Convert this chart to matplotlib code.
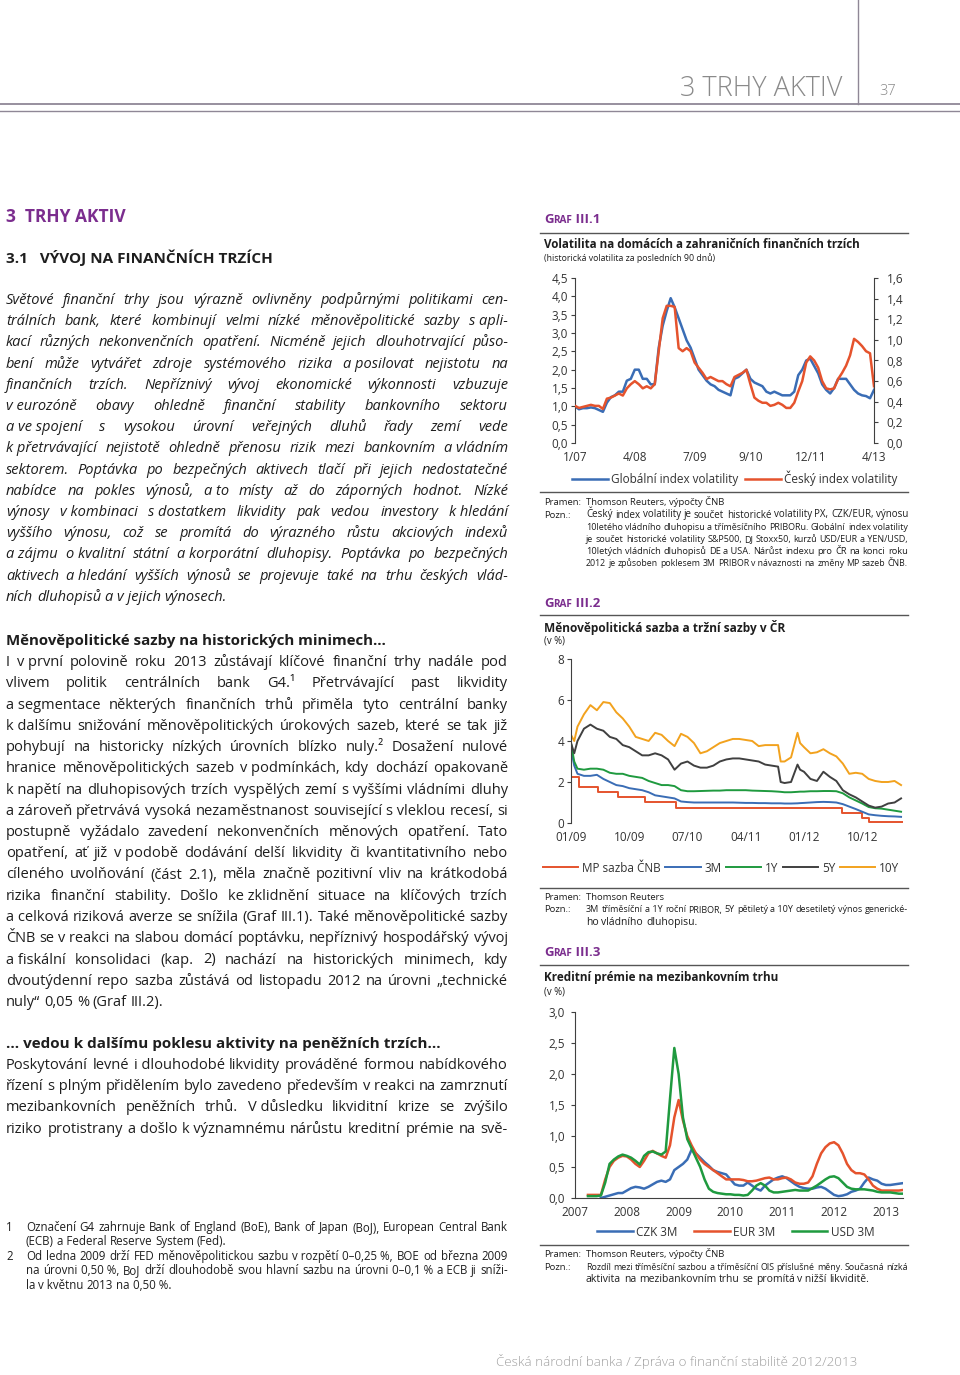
import numpy as np
import matplotlib
matplotlib.use("Agg")
import matplotlib.pyplot as plt
from matplotlib.lines import Line2D

FONT = ["Open Sans", "DejaVu Sans"]
NARROW = ["Liberation Sans Narrow", "Open Sans", "DejaVu Sans"]
plt.rcParams["font.family"] = FONT

PURPLE = "#7b2d8e"
GREY = "#8c8c8c"
INK = "#1e1e1e"
BLUE = "#3a6db5"
RED = "#e5532d"
GREEN = "#1f9a3f"
DARK = "#404040"
ORANGE = "#f2a21e"

# ---------------- data ----------------
# Graf III.1 - months since 1/2007
vol_month = list(range(76))
vol_ticks = [0, 15, 30, 44, 59, 75]
vol_labels = ["1/07", "4/08", "7/09", "9/10", "12/11", "4/13"]
vol_global = [1.0, 0.92, 0.95, 0.95, 0.97, 0.95, 0.9, 0.85, 1.1, 1.25,
              1.3, 1.4, 1.4, 1.7, 1.75, 2.0, 2.0, 1.75, 1.75, 1.6,
              1.6, 2.6, 3.2, 3.6, 3.95, 3.7, 3.4, 3.1, 2.8, 2.6,
              2.3, 2.0, 1.85, 1.7, 1.6, 1.55, 1.45, 1.4, 1.35, 1.3,
              1.75, 1.8, 1.9, 2.0, 1.75, 1.65, 1.6, 1.55, 1.4, 1.35,
              1.4, 1.35, 1.3, 1.3, 1.3, 1.4, 1.85, 2.0, 2.25, 2.3,
              2.1, 1.9, 1.6, 1.45, 1.35, 1.5, 1.75, 1.75, 1.75, 1.6,
              1.45, 1.35, 1.3, 1.28, 1.22, 1.45]
vol_czech = [0.36, 0.34, 0.35, 0.36, 0.37, 0.36, 0.36, 0.33, 0.43, 0.44,
             0.46, 0.48, 0.46, 0.53, 0.57, 0.60, 0.57, 0.53, 0.55, 0.53,
             0.57, 0.89, 1.21, 1.33, 1.33, 1.32, 0.92, 0.89, 0.92, 0.89,
             0.78, 0.73, 0.68, 0.62, 0.64, 0.62, 0.60, 0.60, 0.57, 0.55,
             0.64, 0.66, 0.68, 0.71, 0.57, 0.44, 0.41, 0.39, 0.39, 0.36,
             0.37, 0.39, 0.37, 0.34, 0.34, 0.39, 0.50, 0.60, 0.78, 0.84,
             0.80, 0.73, 0.60, 0.53, 0.52, 0.53, 0.62, 0.68, 0.75, 0.85,
             1.01, 0.98, 0.94, 0.89, 0.87, 0.55]

# Graf III.2 - months since 01/2009
mp_month = [0, 1.2, 4.2, 7.2, 11.5, 16.2, 41.9, 45.0, 46.05, 51.3]
mp_rate = [2.25, 1.75, 1.5, 1.25, 1.0, 0.75, 0.5, 0.25, 0.05, 0.05]
rate_month = [0, 0.5, 1, 2, 3, 4, 5, 6, 7, 8, 9, 10, 11, 12, 13, 14, 15, 16,
              17, 18, 19, 20, 21, 22, 23, 24, 25, 26, 27, 28, 29, 30, 31, 32,
              32.4, 33, 34, 35, 35.4, 36, 37, 38, 39, 40, 41, 42, 43, 44, 45,
              46, 47, 48, 49, 50, 51]
rate_3m = [3.6, 2.8, 2.4, 2.3, 2.3, 2.35, 2.15, 2.0, 1.85, 1.8, 1.7, 1.65,
           1.6, 1.5, 1.35, 1.3, 1.25, 1.2, 1.05, 1.02, 1.0, 1.0, 1.0, 1.0,
           1.0, 1.0, 1.0, 0.99, 0.98, 0.98, 0.97, 0.97, 0.96, 0.96, 0.96,
           0.95, 0.95, 0.96, 0.97, 0.98, 1.0, 1.02, 1.03, 1.02, 1.0, 0.92,
           0.8, 0.68, 0.55, 0.42, 0.38, 0.35, 0.33, 0.32, 0.3]
rate_1y = [3.9, 3.0, 2.65, 2.6, 2.65, 2.65, 2.6, 2.45, 2.4, 2.4, 2.3, 2.25,
           2.2, 2.05, 1.95, 1.85, 1.85, 1.8, 1.6, 1.55, 1.55, 1.56, 1.57,
           1.58, 1.58, 1.6, 1.6, 1.6, 1.6, 1.58, 1.57, 1.56, 1.55, 1.53,
           1.52, 1.5, 1.5, 1.52, 1.53, 1.53, 1.55, 1.55, 1.56, 1.56, 1.55,
           1.45, 1.25, 1.1, 0.95, 0.78, 0.72, 0.7, 0.65, 0.6, 0.55]
rate_5y = [3.9, 3.4, 4.0, 4.6, 4.8, 4.6, 4.5, 4.2, 4.1, 3.8, 3.7, 3.5,
           3.3, 3.3, 3.4, 3.3, 3.1, 2.6, 2.9, 3.0, 2.8, 2.7, 2.7, 2.8,
           3.0, 3.1, 3.15, 3.15, 3.1, 3.05, 3.0, 2.85, 2.8, 2.75, 2.0,
           1.95, 2.0, 2.85, 2.6, 2.5, 2.15, 2.05, 2.5, 2.25, 2.05, 1.6,
           1.4, 1.25, 1.05, 0.85, 0.75, 0.8, 0.95, 1.0, 1.2]
rate_10y = [4.3, 4.0, 4.7, 5.3, 5.75, 5.5, 5.9, 5.85, 5.4, 5.1, 4.7, 4.2,
            4.1, 4.0, 4.4, 4.3, 4.0, 3.75, 4.35, 4.2, 3.9, 3.4, 3.5, 3.7,
            3.9, 4.0, 4.1, 4.1, 4.05, 4.0, 3.75, 3.8, 3.8, 3.8, 3.0,
            3.0, 3.2, 4.4, 3.9, 3.7, 3.4, 3.45, 3.6, 3.4, 3.25, 2.9,
            2.4, 2.45, 2.4, 2.15, 2.05, 2.0, 2.0, 2.05, 1.85]
rate_ticks = [0, 9, 18, 27, 36, 45]
rate_labels = ["01/09", "10/09", "07/10", "04/11", "01/12", "10/12"]

# Graf III.3 - monthly from 4/2007 to 4/2013
prem_year = [2007 + m / 12 for m in range(3, 77)]
prem_czk = [np.nan, np.nan, np.nan,
            0.0, 0.02, 0.04, 0.06, 0.08, 0.08, 0.12, 0.16, 0.18, 0.17,
            0.15, 0.18, 0.22, 0.26, 0.28, 0.26, 0.3, 0.45, 0.5, 0.55,
            0.62, 0.78, 0.72, 0.65, 0.58, 0.52, 0.45, 0.42, 0.4, 0.38,
            0.3, 0.22, 0.2, 0.2, 0.25, 0.2, 0.15, 0.12, 0.2, 0.25,
            0.3, 0.33, 0.35, 0.32, 0.27, 0.22, 0.18, 0.16, 0.15, 0.15,
            0.17, 0.18, 0.15, 0.1, 0.05, 0.03, 0.04, 0.06, 0.1, 0.12,
            0.15, 0.25, 0.33, 0.3, 0.28, 0.23, 0.21, 0.21, 0.22, 0.23,
            0.24]
prem_eur = [0.05, 0.05, 0.05, 0.05, 0.3, 0.5, 0.6, 0.65, 0.68, 0.67,
            0.62, 0.55, 0.5, 0.6, 0.72, 0.76, 0.72, 0.68, 0.65, 0.85,
            1.3, 1.58, 1.25, 1.0, 0.85, 0.72, 0.62, 0.55, 0.5, 0.45,
            0.4, 0.35, 0.3, 0.3, 0.3, 0.3, 0.29, 0.27, 0.27, 0.28,
            0.3, 0.32, 0.33, 0.3, 0.3, 0.32, 0.33, 0.3, 0.25, 0.23,
            0.23, 0.25, 0.35, 0.55, 0.72, 0.82, 0.88, 0.9, 0.85, 0.72,
            0.55, 0.45, 0.4, 0.4, 0.38, 0.3, 0.2, 0.15, 0.12, 0.12,
            0.12, 0.12, 0.12, 0.13]
prem_usd = [0.03, 0.03, 0.03, 0.04, 0.25, 0.55, 0.62, 0.67, 0.7, 0.68,
            0.65, 0.6, 0.54, 0.68, 0.74, 0.75, 0.72, 0.7, 0.75, 1.6,
            2.42, 2.0, 1.3, 0.95, 0.8, 0.65, 0.5, 0.3, 0.15, 0.1,
            0.08, 0.07, 0.06, 0.06, 0.05, 0.05, 0.04, 0.05, 0.12, 0.2,
            0.24, 0.2, 0.12, 0.09, 0.09, 0.1, 0.11, 0.12, 0.13, 0.12,
            0.12, 0.12, 0.16, 0.2, 0.25, 0.3, 0.34, 0.35, 0.32, 0.25,
            0.18, 0.15, 0.14, 0.14, 0.14, 0.13, 0.12, 0.1, 0.09, 0.09,
            0.09, 0.08, 0.07, 0.07]

# ---------------- texts ----------------
para1 = [
    "Světové finanční trhy jsou výrazně ovlivněny podpůrnými politikami cen-",
    "trálních bank, které kombinují velmi nízké měnověpolitické sazby s~apli-",
    "kací různých nekonvenčních opatření. Nicméně jejich dlouhotrvající půso-",
    "bení může vytvářet zdroje systémového rizika a~posilovat nejistotu na",
    "finančních trzích. Nepříznivý vývoj ekonomické výkonnosti vzbuzuje",
    "v~eurozóně obavy ohledně finanční stability bankovního sektoru",
    "a~ve~spojení s vysokou úrovní veřejných dluhů řady zemí vede",
    "k~přetrvávající nejistotě ohledně přenosu rizik mezi bankovním a~vládním",
    "sektorem. Poptávka po bezpečných aktivech tlačí při jejich nedostatečné",
    "nabídce na pokles výnosů, a~to místy až do záporných hodnot. Nízké",
    "výnosy v~kombinaci s~dostatkem likvidity pak vedou investory k~hledání",
    "vyššího výnosu, což se promítá do výrazného růstu akciových indexů",
    "a~zájmu o~kvalitní státní a~korporátní dluhopisy. Poptávka po bezpečných",
    "aktivech a~hledání vyšších výnosů se projevuje také na trhu českých vlád-",
    "ních dluhopisů a~v~jejich výnosech.",
]
para2 = [
    "I v~první polovině roku 2013 zůstávají klíčové finanční trhy nadále pod",
    "vlivem politik centrálních bank G4.¹ Přetrvávající past likvidity",
    "a~segmentace některých finančních trhů přiměla tyto centrální banky",
    "k~dalšímu snižování měnověpolitických úrokových sazeb, které se tak již",
    "pohybují na historicky nízkých úrovních blízko nuly.² Dosažení nulové",
    "hranice měnověpolitických sazeb v~podmínkách, kdy dochází opakovaně",
    "k~napětí na dluhopisových trzích vyspělých zemí s~vyššími vládními dluhy",
    "a~zároveň přetrvává vysoká nezaměstnanost související s~vleklou recesí, si",
    "postupně vyžádalo zavedení nekonvenčních měnových opatření. Tato",
    "opatření, ať již v~podobě dodávání delší likvidity či kvantitativního nebo",
    "cíleného uvolňování (část 2.1), měla značně pozitivní vliv na krátkodobá",
    "rizika finanční stability. Došlo ke~zklidnění situace na klíčových trzích",
    "a~celková riziková averze se snížila (Graf III.1). Také měnověpolitické sazby",
    "ČNB se v~reakci na slabou domácí poptávku, nepříznivý hospodářský vývoj",
    "a~fiskální konsolidaci (kap. 2) nachází na historických minimech, kdy",
    "dvoutýdenní repo sazba zůstává od listopadu 2012 na úrovni „technické",
    "nuly“ 0,05 % (Graf III.2).",
]
para3 = [
    "Poskytování levné i~dlouhodobé likvidity prováděné formou nabídkového",
    "řízení s~plným přidělením bylo zavedeno především v~reakci na zamrznutí",
    "mezibankovních peněžních trhů. V~důsledku likviditní krize se zvýšilo",
    "riziko protistrany a~došlo k~významnému nárůstu kreditní prémie na svě-",
]
foot1 = ["Označení G4 zahrnuje Bank of England (BoE), Bank of Japan (BoJ), European Central Bank",
         "(ECB) a~Federal Reserve System (Fed)."]
foot2 = ["Od ledna 2009 drží FED měnověpolitickou sazbu v~rozpětí 0–0,25~%, BOE od března 2009",
         "na úrovni 0,50~%, BoJ drží dlouhodobě svou hlavní sazbu na úrovni 0–0,1~% a~ECB ji sníži-",
         "la v~květnu 2013 na 0,50~%."]
note1 = ["Český index volatility je součet historické volatility PX, CZK/EUR, výnosu",
         "10letého vládního dluhopisu a~tříměsíčního PRIBORu. Globální index volatility",
         "je součet historické volatility S&P500, DJ Stoxx50, kurzů USD/EUR a~YEN/USD,",
         "10letých vládních dluhopisů DE a~USA. Nárůst indexu pro ČR na konci roku",
         "2012 je způsoben poklesem 3M PRIBOR v~návaznosti na změny MP sazeb ČNB."]
note2 = ["3M tříměsíční a~1Y roční PRIBOR, 5Y pětiletý a~10Y desetiletý výnos generické-",
         "ho vládního dluhopisu."]
note3 = ["Rozdíl mezi tříměsíční sazbou a~tříměsíční OIS příslušné měny. Současná nízká",
         "aktivita na mezibankovním trhu se promítá v~nižší likviditě."]

# ---------------- page ----------------
W, H = 960, 1375
fig = plt.figure(figsize=(W / 100, H / 100), dpi=100)
fig.patch.set_facecolor("white")
rend = fig.canvas.get_renderer()


def fx(x):
    return x / W


def fy(y):
    return 1 - y / H


def put(x, y, s, size, **kw):
    kw.setdefault("family", FONT)
    kw.setdefault("color", INK)
    return fig.text(fx(x), fy(y), s, fontsize=size, va="baseline", **kw)


def wid(t):
    return t.get_window_extent(renderer=rend).width


def fit(x, y, s, size, w, **kw):
    # scale font a bit so the line gets the width of the original
    t = put(x, y, s, size, **kw)
    k = min(max(w / wid(t), 0.8), 1.2)
    t.set_fontsize(size * k)
    return t


def justify(x, y, s, size, w, last=False, **kw):
    words = [p.replace("~", " ") for p in s.split(" ")]
    ts = [put(x, y, p, size, **kw) for p in words]
    ws = [wid(t) for t in ts]
    sp = size * 0.36
    nat = sum(ws) + sp * (len(ws) - 1)
    if nat > w:
        k = w / nat
        for t in ts:
            t.set_fontsize(size * k)
        ws = [v * k for v in ws]
        sp *= k
    gap = sp if (last or len(ws) < 2) else (w - sum(ws)) / (len(ws) - 1)
    cx = x
    for t, v in zip(ts, ws):
        t.set_x(fx(cx))
        cx += v + gap


def hrule(y, x0=540, x1=908, color="#555555", lw=1.0):
    fig.add_artist(Line2D([fx(x0), fx(x1)], [fy(y), fy(y)], color=color, lw=lw))


def graf_label(x, y, num):
    cx = x
    for s, sz in [("G", 9.5), ("RAF", 7.2), (" III." + num, 9.5)]:
        t = put(cx, y, s, sz, color=PURPLE, weight="bold")
        cx += wid(t)


# header
fig.add_artist(Line2D([fx(858), fx(858)], [fy(0), fy(104)], color="#8f8796", lw=1.0))
hrule(104, 0, 960, "#8f8796", 1.3)
hrule(111, 0, 960, "#8f8796", 1.0)
fit(680, 96, "3 TRHY AKTIV", 20, 162, color="#8a8a8a", weight="light")
put(879, 95, "37", 10.5, color="#8a8a8a", weight="light")

# left column
fit(6, 222, "3  TRHY AKTIV", 12.5, 120, color=PURPLE, weight="bold")
fit(6, 263, "3.1   VÝVOJ NA FINANČNÍCH TRZÍCH", 11.5, 267, weight="bold")
for i, s in enumerate(para1):
    justify(6, 304 + 21.2 * i, s, 10.5, 502, last=(i == len(para1) - 1), style="italic")
fit(6, 645, "Měnověpolitické sazby na historických minimech…", 10.5, 380, weight="bold")
for i, s in enumerate(para2):
    justify(6, 666 + 21.25 * i, s, 10.5, 502, last=(i == len(para2) - 1))
fit(6, 1048, "… vedou k dalšímu poklesu aktivity na peněžních trzích…", 10.5, 434, weight="bold")
for i, s in enumerate(para3):
    justify(6, 1069 + 21.2 * i, s, 10.5, 502)

put(6, 1231, "1", 8.3)
for i, s in enumerate(foot1):
    justify(26, 1231 + 14.3 * i, s, 8.3, 482, last=(i == len(foot1) - 1))
put(6, 1260, "2", 8.3)
for i, s in enumerate(foot2):
    justify(26, 1260 + 14.3 * i, s, 8.3, 482, last=(i == len(foot2) - 1))

fit(496, 1366, "Česká národní banka / Zpráva o finanční stabilitě 2012/2013", 10.5, 362,
    color="#a0a0a0", weight="light")


def notes(y0, source, lines):
    put(544, y0, "Pramen:", 6.8, family=NARROW)
    put(586, y0, source, 6.8, family=NARROW)
    put(544, y0 + 12.5, "Pozn.:", 6.8, family=NARROW)
    for i, s in enumerate(lines):
        justify(586, y0 + 12.5 + 12.2 * i, s, 7.5, 322, last=(i == len(lines) - 1 and i > 0),
                family=NARROW)


def style(ax):
    for s in ["top", "right", "bottom"]:
        ax.spines[s].set_visible(False)
    ax.spines["left"].set_color(DARK)
    ax.spines["left"].set_linewidth(0.8)
    ax.tick_params(axis="y", length=3, width=0.8, color=DARK, labelsize=8.5,
                   labelcolor="#333333", pad=2)
    ax.tick_params(axis="x", length=0, labelsize=8.5, labelcolor="#333333", pad=6)
    ax.patch.set_alpha(0)


def comma(vals):
    return [f"{v:.1f}".replace(".", ",") for v in vals]


def legend(handles, labels, cx, cy, spacing):
    fig.legend(handles, labels, loc="center", bbox_to_anchor=(fx(cx), fy(cy)),
               ncol=len(handles), frameon=False, fontsize=8.5, handlelength=3.0,
               handletextpad=0.3, columnspacing=spacing, labelcolor="#333333")


# ---- Graf III.1
graf_label(544, 223, "1")
hrule(233)
fit(544, 248, "Volatilita na domácích a zahraničních finančních trzích", 8.6, 316, weight="bold")
fit(544, 261, "(historická volatilita za posledních 90 dnů)", 6.5, 170)

ax1 = fig.add_axes([fx(575), fy(443), (874 - 575) / W, (443 - 278) / H])
style(ax1)
l1, = ax1.plot(vol_month, vol_global, color=BLUE, lw=1.8)
ax1.set_xlim(0, 75)
ax1.set_ylim(0, 4.5)
yt = np.arange(0, 4.51, 0.5)
ax1.set_yticks(yt)
ax1.set_yticklabels(comma(yt))
ax1.set_xticks(vol_ticks)
ax1.set_xticklabels(vol_labels)
ax1r = ax1.twinx()
for s in ["top", "left", "bottom"]:
    ax1r.spines[s].set_visible(False)
ax1r.spines["right"].set_color(DARK)
ax1r.spines["right"].set_linewidth(0.8)
l2, = ax1r.plot(vol_month, vol_czech, color=RED, lw=1.8)
ax1r.set_ylim(0, 1.6)
yt = np.arange(0, 1.61, 0.2)
ax1r.set_yticks(yt)
ax1r.set_yticklabels(comma(yt))
ax1r.tick_params(axis="y", length=3, width=0.8, color=DARK, labelsize=8.5,
                 labelcolor="#333333", pad=6)
legend([l1, l2], ["Globální index volatility", "Český index volatility"], 735, 478, 0.6)
hrule(492)
notes(505, "Thomson Reuters, výpočty ČNB", note1)

# ---- Graf III.2
graf_label(544, 607, "2")
hrule(615)
fit(544, 632, "Měnověpolitická sazba a tržní sazby v ČR", 8.6, 239, weight="bold")
fit(544, 644, "(v %)", 6.5, 21)

ax2 = fig.add_axes([fx(571), fy(823), (903 - 571) / W, (823 - 659) / H])
style(ax2)
h = []
h += ax2.plot(mp_month, mp_rate, color=RED, lw=1.4, drawstyle="steps-post")
h += ax2.plot(rate_month, rate_3m, color=BLUE, lw=1.4)
h += ax2.plot(rate_month, rate_1y, color=GREEN, lw=1.4)
h += ax2.plot(rate_month, rate_5y, color=DARK, lw=1.4)
h += ax2.plot(rate_month, rate_10y, color=ORANGE, lw=1.4)
ax2.set_xlim(0, 51.3)
ax2.set_ylim(0, 8)
ax2.set_yticks([0, 2, 4, 6, 8])
ax2.set_xticks(rate_ticks)
ax2.set_xticklabels(rate_labels)
legend(h, ["MP sazba ČNB", "3M", "1Y", "5Y", "10Y"], 721, 868, 0.4)
hrule(888)
notes(900, "Thomson Reuters", note2)

# ---- Graf III.3
graf_label(544, 956, "3")
hrule(965)
fit(544, 981, "Kreditní prémie na mezibankovním trhu", 8.6, 233, weight="bold")
fit(544, 994, "(v %)", 6.5, 21)

ax3 = fig.add_axes([fx(575), fy(1198), (903 - 575) / W, (1198 - 1012) / H])
style(ax3)
ax3.spines["bottom"].set_visible(True)
ax3.spines["bottom"].set_color(DARK)
ax3.spines["bottom"].set_linewidth(0.8)
h = []
h += ax3.plot(prem_year, prem_czk, color=BLUE, lw=1.8)
h += ax3.plot(prem_year, prem_eur, color=RED, lw=1.8)
h += ax3.plot(prem_year, prem_usd, color=GREEN, lw=1.8)
ax3.set_xlim(2007, 2013.33)
ax3.set_ylim(0, 3.0)
yt = np.arange(0, 3.01, 0.5)
ax3.set_yticks(yt)
ax3.set_yticklabels(comma(yt))
ax3.tick_params(axis="y", pad=4)
ax3.set_xticks(range(2007, 2014))
ax3.tick_params(axis="x", pad=6)
legend(h, ["CZK 3M", "EUR 3M", "USD 3M"], 736, 1232, 1.4)
hrule(1245)
notes(1257, "Thomson Reuters, výpočty ČNB", note3)

fig.savefig("out.png", dpi=100, facecolor="white")
